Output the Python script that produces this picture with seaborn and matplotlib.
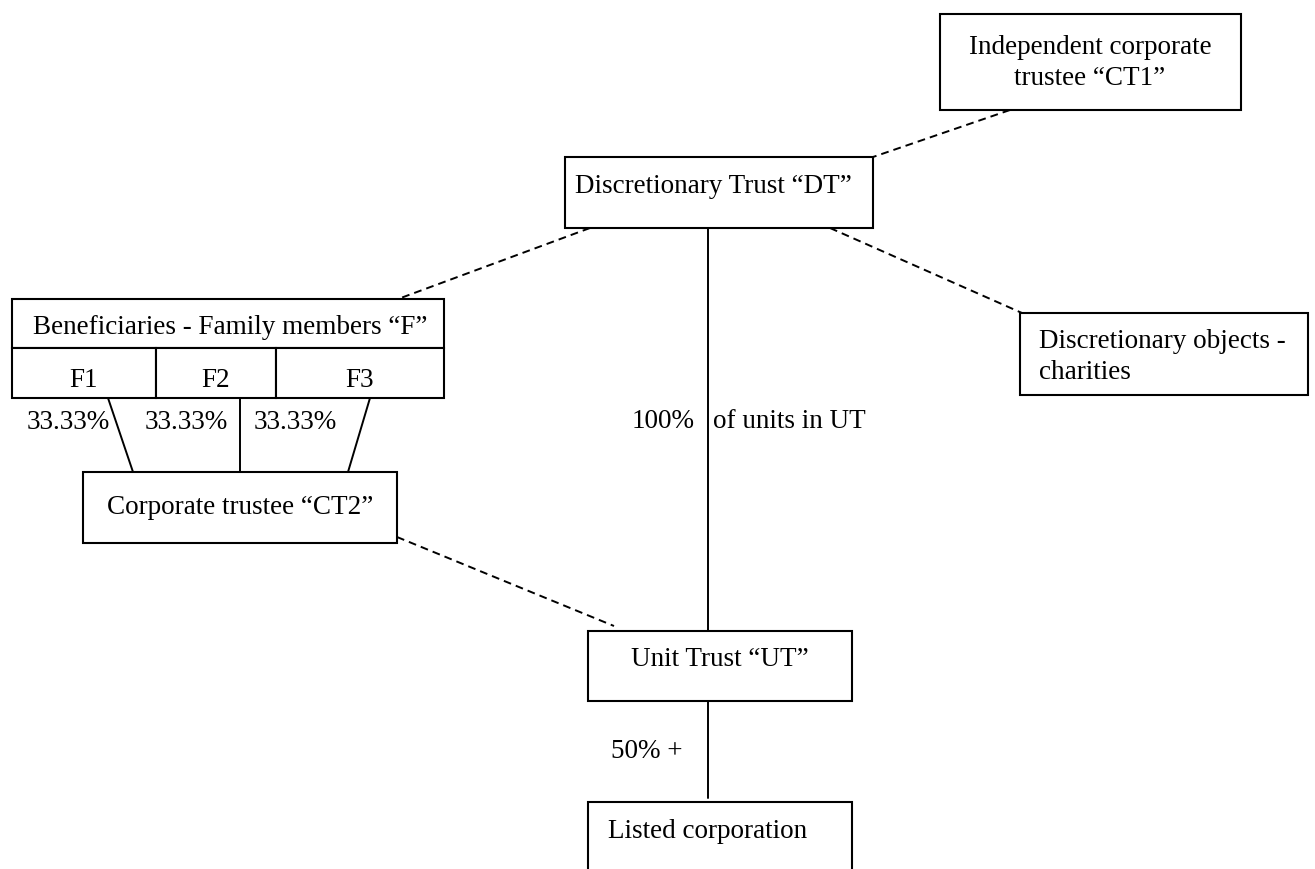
import pandas as pd
import matplotlib
matplotlib.use("Agg")
import matplotlib.pyplot as plt
from matplotlib.patches import Rectangle
import seaborn as sns

# Boxes of the structure chart (pixel frame, y pointing down)
box_names = ["CT1", "DT", "F_head", "F1", "F2", "F3", "CHAR", "CT2", "UT", "LC"]
box_left = [940, 565, 12, 12, 156, 276, 1020, 83, 588, 588]
box_top = [14, 157, 299, 348, 348, 348, 313, 472, 631, 802]
box_right = [1241, 873, 444, 156, 276, 444, 1308, 397, 852, 852]
box_bottom = [110, 228, 348, 398, 398, 398, 395, 543, 701, 880]

# Text inside boxes (y = baseline of the last line)
box_text = [
    "Independent corporate\ntrustee \u201cCT1\u201d",
    "Discretionary Trust \u201cDT\u201d",
    "Beneficiaries - Family members \u201cF\u201d",
    "F1", "F2", "F3",
    "Discretionary objects -\ncharities",
    "Corporate trustee \u201cCT2\u201d",
    "Unit Trust \u201cUT\u201d",
    "Listed corporation",
]
text_x = [1090, 713, 230, 84, 216, 360, 1039, 240, 720, 608]
text_y = [85, 193, 334, 387, 387, 387, 379, 514, 666, 838]
text_ha = ["center", "center", "center", "center", "center", "center",
           "left", "center", "center", "left"]

# Connector lines between boxes
edge_kind = ["dashed", "dashed", "dashed", "solid", "solid", "solid",
             "solid", "dashed", "solid"]
edge_x0 = [1010, 590, 830, 108, 240, 370, 708, 397, 708]
edge_y0 = [110, 228, 228, 398, 398, 398, 228, 537, 701]
edge_x1 = [873, 398, 1022, 133, 240, 348, 708, 614, 708]
edge_y1 = [157, 299, 313, 472, 480, 472, 631, 626, 798]

# Free labels on the lines
label_text = ["33.33%", "33.33%", "33.33%", "100%", "of units in UT", "50% +"]
label_x = [68, 186, 295, 632, 713, 611]
label_y = [429, 429, 429, 428, 428, 758]
label_ha = ["center", "center", "center", "left", "left", "left"]

sns.set_theme(style="white")
plt.rcParams["font.family"] = ["Liberation Serif", "DejaVu Serif"]

fig = plt.figure(figsize=(13.15, 8.69), dpi=100)
ax = fig.add_axes([0, 0, 1, 1])

edges = []
for i in range(len(edge_kind)):
    edges.append({"edge": i, "kind": edge_kind[i], "x": edge_x0[i], "y": edge_y0[i]})
    edges.append({"edge": i, "kind": edge_kind[i], "x": edge_x1[i], "y": edge_y1[i]})
edges = pd.DataFrame(edges)

sns.lineplot(data=edges, x="x", y="y", units="edge", style="kind",
             dashes={"solid": "", "dashed": (4, 2.6)}, estimator=None,
             sort=False, color="black", linewidth=1.4, legend=False, ax=ax)
ax.set_xlim(0, 1315)
ax.set_ylim(869, 0)
ax.axis("off")

for i in range(len(box_names)):
    ax.add_patch(Rectangle((box_left[i], box_top[i]),
                           box_right[i] - box_left[i], box_bottom[i] - box_top[i],
                           facecolor="white", edgecolor="black", linewidth=1.5,
                           zorder=3, clip_on=False))
    ax.text(text_x[i], text_y[i], box_text[i], ha=text_ha[i], va="baseline",
            fontsize=19.5, color="black", zorder=4, linespacing=1.3)

for i in range(len(label_text)):
    ax.text(label_x[i], label_y[i], label_text[i], ha=label_ha[i], va="baseline",
            fontsize=19.5, color="black", zorder=4)

fig.savefig("out.png", dpi=100)
